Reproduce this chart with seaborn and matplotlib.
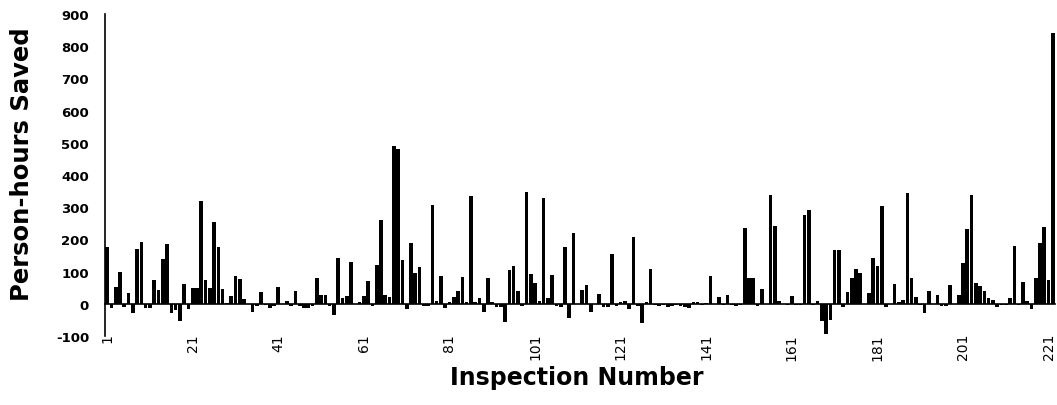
import numpy as np
import pandas as pd
import matplotlib
matplotlib.use("Agg")
import matplotlib.pyplot as plt
import seaborn as sns

# ---- data ----
saved = [
    177, -12, 53, 100, -10, 33, -30, 170, 193, -12,
    -12, 75, 44, 140, 186, -30, -20, -52, 62, -15,
    48, 48, 320, 75, 48, 254, 177, 46, 3, 23,
    85, 78, 14, 0, -27, -8, 38, -3, -12, -8,
    52, 0, 8, -6, 40, -8, -12, -12, -8, 80,
    26, 28, -8, -34, 142, 18, 25, 131, 0, 5,
    23, 72, -8, 121, 259, 26, 20, 490, 480, 137,
    -15, 188, 95, 114, -6, -8, 307, 10, 85, -12,
    5, 22, 41, 83, 5, 335, 5, 18, -24, 80,
    5, -10, -10, -58, 106, 116, 40, -8, 346, 93,
    64, 10, 328, 18, 90, -8, -10, 176, -45, 219,
    0, 43, 59, -24, 0, 31, -10, -10, 155, -8,
    5, 10, -15, 206, -8, -60, 5, 108, -5, -8,
    -5, -10, -8, -5, -8, -10, -12, 5, 5, -5,
    3, 86, 0, 22, -3, 26, -5, -8, -5, 234,
    81, 81, -8, 47, 0, 339, 243, 8, 0, -5,
    24, -5, -5, 277, 290, -5, 10, -54, -95, -49,
    166, 166, -10, 36, 81, 109, 96, 0, 34, 142,
    117, 303, -10, 0, 62, 5, 11, 343, 81, 21,
    -5, -28, 40, 0, 26, -8, -8, 59, 0, 28,
    127, 233, 338, 64, 55, 41, 19, 12, -10, -5,
    -3, 19, 181, -5, 69, 8, -15, 80, 188, 238,
    75, 840,
]
inspection = list(range(1, len(saved) + 1))
tick_labels = ["1", "21", "41", "61", "81", "101", "121", "141", "161", "181", "201", "221"]
y_ticks = [-100, 0, 100, 200, 300, 400, 500, 600, 700, 800, 900]

df = pd.DataFrame({"Inspection": inspection, "Saved": saved})

sns.set_style("white")
plt.rcParams["text.color"] = "black"
plt.rcParams["xtick.color"] = "black"
plt.rcParams["ytick.color"] = "black"

fig = plt.figure(figsize=(10.57, 4.06), dpi=100)
ax = fig.add_axes([105 / 1057, (406 - 337) / 406, (1055 - 105) / 1057, (337 - 15) / 406])

sns.barplot(data=df, x="Inspection", y="Saved", color="black", width=0.85,
            saturation=1, edgecolor="none", ax=ax)

ax.set_ylim(-100, 900)
ax.set_xlim(-0.5, len(saved) - 0.5)

ax.set_yticks(y_ticks)
ax.set_yticklabels([str(v) for v in y_ticks])
for t in ax.get_yticklabels():
    t.set_fontfamily("DejaVu Sans")
    t.set_fontweight("bold")
    t.set_fontsize(9.5)
    t.set_color("black")
ax.tick_params(axis="y", direction="inout", length=5, width=1.0, pad=9,
               colors="black")

pos = [int(t) - 1 for t in tick_labels]
ax.set_xticks(pos)
ax.set_xticklabels(tick_labels)
ax.tick_params(axis="x", direction="out", length=3, width=1.0, pad=18,
               colors="black", labelrotation=90)
for t in ax.get_xticklabels():
    t.set_fontfamily("Liberation Sans")
    t.set_fontweight("bold")
    t.set_fontsize(9)
    t.set_color("black")
    t.set_rotation(90)
    t.set_va("center")
    t.set_ha("center")

for s in ["top", "right"]:
    ax.spines[s].set_visible(False)
ax.spines["left"].set_color("black")
ax.spines["left"].set_linewidth(1.2)
ax.spines["bottom"].set_position(("data", 0))
ax.spines["bottom"].set_color("black")
ax.spines["bottom"].set_linewidth(1.2)

ax.set_xlabel("")
ax.set_ylabel("")
fig.text(577 / 1057, 1 - 378 / 406, "Inspection Number", ha="center", va="center",
         fontfamily="DejaVu Sans", fontweight="bold", fontsize=17, color="black")
fig.text(22 / 1057, 1 - 164 / 406, "Person-hours Saved", ha="center", va="center",
         rotation=90, fontfamily="DejaVu Sans", fontweight="bold", fontsize=17.5,
         color="black")

fig.savefig("out.png", dpi=100)
